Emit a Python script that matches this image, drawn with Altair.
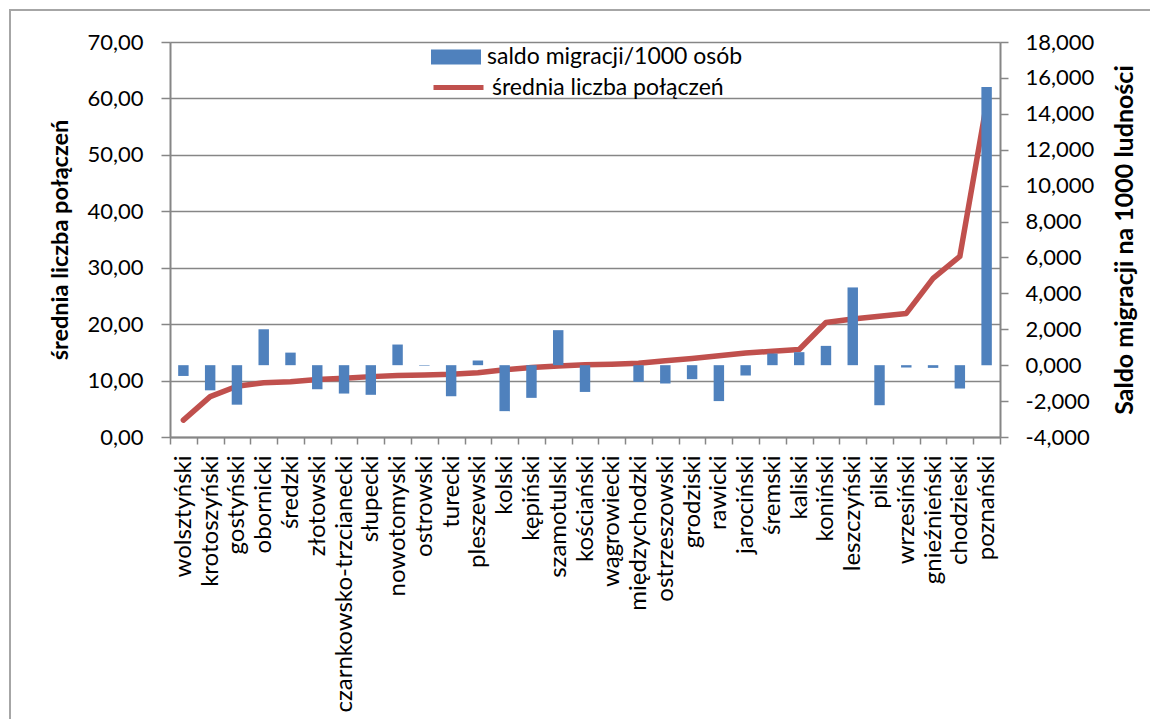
import altair as alt
import pandas as pd

categories = ["wolsztyński", "krotoszyński", "gostyński", "obornicki", "średzki",
              "złotowski", "czarnkowsko-trzcianecki", "słupecki", "nowotomyski",
              "ostrowski", "turecki", "pleszewski", "kolski", "kępiński",
              "szamotulski", "kościański", "wągrowiecki", "międzychodzki",
              "ostrzeszowski", "grodziski", "rawicki", "jarociński", "śremski",
              "kaliski", "koniński", "leszczyński", "pilski", "wrzesiński",
              "gnieźnieński", "chodzieski", "poznański"]

saldo_migracji = [-0.600, -1.400, -2.200, 2.000, 0.700, -1.340, -1.580, -1.650,
                  1.150, -0.030, -1.730, 0.260, -2.560, -1.820, 1.950, -1.490,
                  0.000, -0.930, -1.020, -0.780, -2.000, -0.575, 0.650, 0.725,
                  1.075, 4.330, -2.230, -0.130, -0.150, -1.300, 15.500]

srednia_polaczen = [3.0, 7.15, 9.0, 9.6, 9.8, 10.2, 10.4, 10.7, 10.9, 11.0,
                    11.1, 11.4, 11.9, 12.3, 12.6, 12.8, 12.9, 13.05, 13.5, 13.9,
                    14.4, 14.9, 15.2, 15.5, 20.3, 20.9, 21.4, 21.9, 28.1, 32.0,
                    59.1]

left_ticks = [0, 10, 20, 30, 40, 50, 60, 70]
right_ticks = [-4, -2, 0, 2, 4, 6, 8, 10, 12, 14, 16, 18]

bar_label = "saldo migracji/1000 osób"
line_label = "średnia liczba połączeń"

df = pd.DataFrame({
    "powiat": categories,
    "saldo": saldo_migracji,
    "polaczenia": srednia_polaczen,
    "s_bar": [bar_label] * len(categories),
    "s_line": [line_label] * len(categories),
})

FONT = "Lato"
GRAY = "#868686"

x_enc = alt.X(
    "powiat:N", sort=categories, title=None,
    scale=alt.Scale(paddingInner=0, paddingOuter=0),
    axis=alt.Axis(labelAngle=-90, labelFontSize=24, labelFont=FONT,
                  labelColor="#000000", tickBand="extent", tickSize=7,
                  tickColor=GRAY, tickWidth=1.5, domainColor=GRAY,
                  domainWidth=2, labelPadding=11, grid=False,
                  labelOverlap=False, labelLimit=400),
)

bars = alt.Chart(df).mark_bar(width={"band": 0.39}).encode(
    x=x_enc,
    y=alt.Y("saldo:Q", title="Saldo migracji na 1000 ludności",
            scale=alt.Scale(domain=[-4, 18], nice=False),
            axis=alt.Axis(orient="right", values=right_ticks, grid=False,
                          labelExpr="(datum.value < 0 ? '-' : '') + replace(format(abs(datum.value), '.3f'), '.', ',')",
                          labelFontSize=22, labelFont=FONT, labelColor="#000000",
                          tickSize=8, tickColor=GRAY, tickWidth=1.5,
                          domainColor=GRAY, domainWidth=2, labelPadding=17,
                          titleFont=FONT, titleFontSize=25, titleFontWeight="bold",
                          titleAngle=-90, titleBaseline="top",
                          titleColor="#000000", titlePadding=19)),
    color=alt.Color("s_bar:N", scale=alt.Scale(range=["#4F81BD"]),
                    legend=alt.Legend(title=None, orient="none", legendX=261,
                                      legendY=-10, symbolType="M-1,-0.3H1V0.3H-1Z",
                                      symbolSize=2500, symbolStrokeWidth=0,
                                      labelFont=FONT, labelFontSize=23,
                                      labelColor="#000000", labelOffset=6,
                                      labelLimit=500)),
)

line = alt.Chart(df).mark_line(strokeWidth=5.5, strokeJoin="round",
                               strokeCap="round").encode(
    x=alt.X("powiat:N", sort=categories),
    y=alt.Y("polaczenia:Q", title="średnia liczba połączeń",
            scale=alt.Scale(domain=[0, 70], nice=False),
            axis=alt.Axis(orient="left", values=left_ticks, grid=True,
                          gridColor=GRAY, gridWidth=1.3,
                          labelExpr="replace(format(datum.value, '.2f'), '.', ',')",
                          labelFontSize=22, labelFont=FONT, labelColor="#000000",
                          tickSize=9, tickColor=GRAY, tickWidth=1.5,
                          domainColor=GRAY, domainWidth=2, labelPadding=18,
                          titleFont=FONT, titleFontSize=23.5, titleFontWeight="bold",
                          titleColor="#000000", titlePadding=14)),
    stroke=alt.Stroke("s_line:N", scale=alt.Scale(range=["#C0504D"]),
                      legend=alt.Legend(title=None, orient="none", legendX=261,
                                        legendY=18, symbolType="stroke",
                                        symbolSize=2500, symbolStrokeWidth=5,
                                        labelFont=FONT, labelFontSize=23,
                                        labelColor="#000000", labelOffset=6,
                                        labelLimit=500)),
)

frame = alt.Chart(df).mark_rect(fill=None, stroke="#A6A6A6", strokeWidth=2).encode(
    x=alt.value(-160), x2=alt.value(1000), y=alt.value(-32), y2=alt.value(700)
)

chart = alt.layer(line, bars, frame).resolve_scale(
    y="independent", color="independent", stroke="independent"
).properties(
    width=830, height=395,
    autosize=alt.AutoSizeParams(type="none"),
    padding={"left": 162, "top": 34, "right": 150, "bottom": 282},
).configure_view(stroke=None).configure(background="white")

chart.save("out.html", embed_options={"renderer": "svg", "actions": False})
